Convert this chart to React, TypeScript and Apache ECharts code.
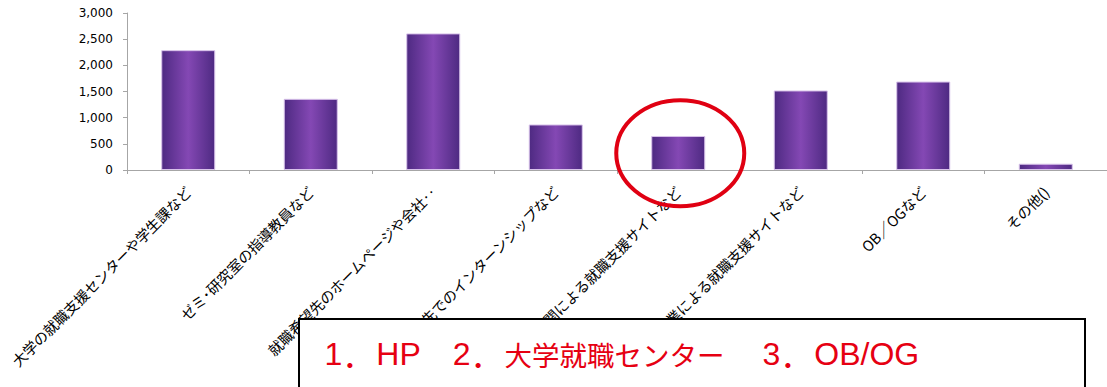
import React, { useEffect, useRef } from "react";
import * as echarts from "echarts";

const categories = [
  "大学の就職支援センターや学生課など",
  "ゼミ･研究室の指導教員など",
  "就職希望先のホームページや会社‥",
  "就職希望先でのインターンシップなど",
  "公的機関による就職支援サイトなど",
  "民間企業による就職支援サイトなど",
  "OB／OGなど",
  "その他()",
];
const values = [2290, 1360, 2610, 870, 650, 1520, 1690, 120];
const yMin = 0;
const yMax = 3000;
const yInterval = 500;
const highlightIndex = 4;
const highlightValue = 320;
const boxText =
  "{lat|1}{dot|．}{lat|HP}{sp|　}{lat|2}{dot|．}{kan|大学就職センター}{sp2|　}{lat|3}{dot|．}{lat|OB/OG}";

export default function App() {
  const ref = useRef<HTMLDivElement>(null);
  useEffect(() => {
    if (!ref.current) return;
    const chart = echarts.init(ref.current, null, { renderer: "svg" });
    const barColor = new echarts.graphic.LinearGradient(0, 0, 1, 0, [
      { offset: 0, color: "#4e2a82" },
      { offset: 0.5, color: "#8448b4" },
      { offset: 1, color: "#4e2a82" },
    ]);
    chart.setOption({
      animation: false,
      backgroundColor: "#ffffff",
      grid: { left: 127, top: 13, width: 987, height: 157, containLabel: false },
      xAxis: {
        type: "category",
        data: categories,
        axisLine: { show: true, lineStyle: { color: "#a6a6a6", width: 1 } },
        axisTick: { show: true, length: 4, alignWithLabel: false, lineStyle: { color: "#a6a6a6" } },
        axisLabel: {
          rotate: 45,
          interval: 0,
          margin: 19,
          color: "#000000",
          fontSize: 14.5,
          fontFamily: "Noto Sans CJK JP",
        },
        splitLine: { show: false },
      },
      yAxis: {
        type: "value",
        min: yMin,
        max: yMax,
        interval: yInterval,
        axisLine: { show: true, lineStyle: { color: "#a6a6a6", width: 1 } },
        axisTick: { show: true, length: 4, lineStyle: { color: "#a6a6a6" } },
        axisLabel: {
          margin: 14,
          color: "#000000",
          fontSize: 12,
          fontFamily: "DejaVu Sans",
          formatter: (v: number) => v.toLocaleString("en-US"),
        },
        splitLine: { show: false },
      },
      series: [
        {
          type: "bar",
          data: values,
          barWidth: 54,
          itemStyle: {
            color: barColor,
            borderColor: "#d8c2ea",
            borderWidth: 1,
          },
        },
      ],
    });
    const center = chart.convertToPixel({ seriesIndex: 0 }, [highlightIndex, highlightValue]) as number[];
    const red = "#e60012";
    chart.setOption({
      graphic: [
        {
          type: "ellipse",
          z: 100,
          shape: { cx: center[0] + 2, cy: center[1], rx: 64, ry: 53 },
          style: { fill: "none", stroke: "#e00012", lineWidth: 4 },
        },
        {
          type: "rect",
          z: 100,
          shape: { x: 299, y: 319, width: 786, height: 80 },
          style: { fill: "#ffffff", stroke: "#000000", lineWidth: 2 },
        },
        {
          type: "text",
          z: 101,
          x: 324.5,
          y: 354,
          style: {
            text: boxText,
            fill: red,
            verticalAlign: "middle",
            rich: {
              lat: { fontFamily: "Liberation Sans", fontSize: 32, fill: red, verticalAlign: "middle" },
              dot: { fontFamily: "Noto Sans CJK JP", fontSize: 32, width: 34, fill: red, verticalAlign: "middle" },
              sp: { fontFamily: "Noto Sans CJK JP", fontSize: 32, width: 32, fill: red, verticalAlign: "middle" },
              sp2: { fontFamily: "Noto Sans CJK JP", fontSize: 32, width: 38, fill: red, verticalAlign: "middle" },
              kan: { fontFamily: "Noto Sans CJK JP", fontSize: 27.5, width: 220, fill: red, verticalAlign: "middle" },
            },
          },
        },
      ],
    });
    return () => chart.dispose();
  }, []);
  return (
    <div
      ref={ref}
      style={{ position: "fixed", left: 0, top: 0, width: 1107, height: 387 }}
    />
  );
}
